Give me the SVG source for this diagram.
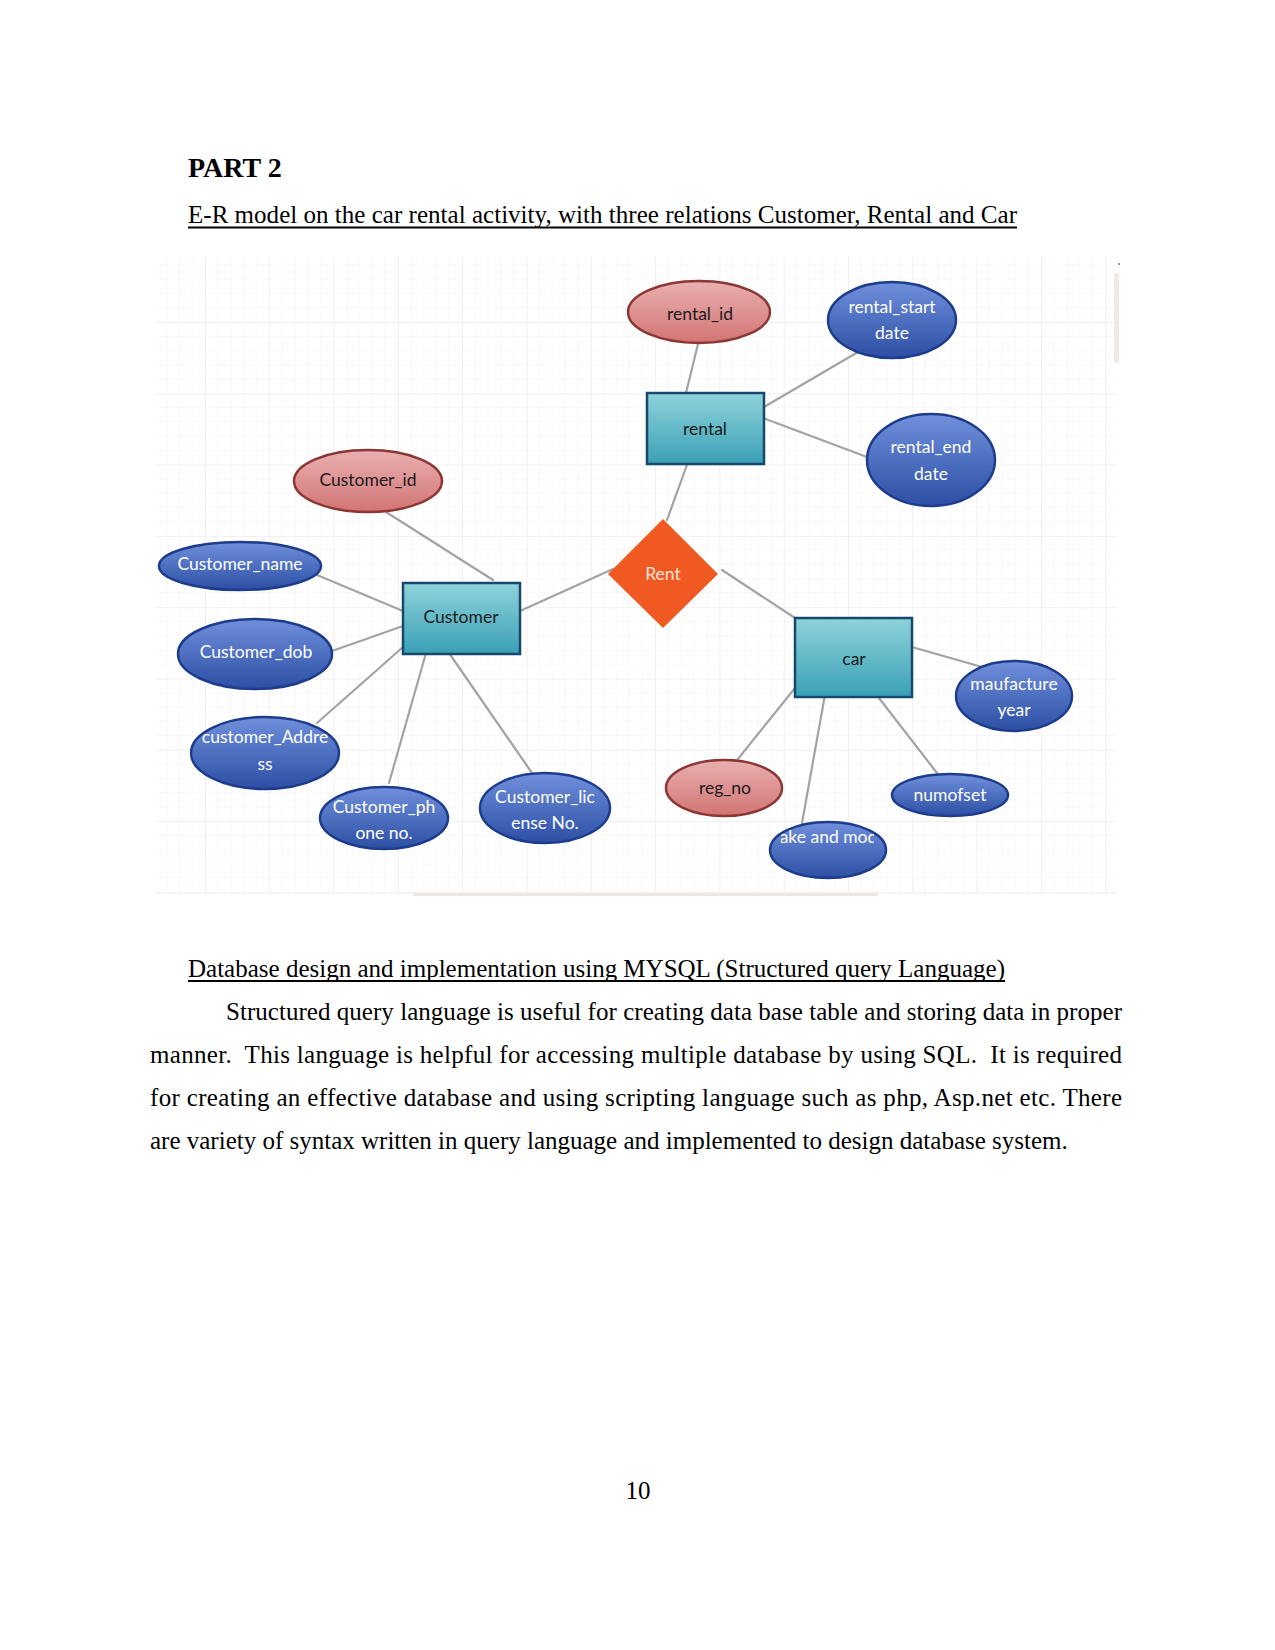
<svg xmlns="http://www.w3.org/2000/svg" width="1275" height="1650" viewBox="0 0 1275 1650">
<style>
.doc{font-family:"Liberation Serif","Times New Roman",serif;fill:#000}
.lbl{font-family:Lato,"Open Sans",sans-serif;font-size:17.5px;text-anchor:middle}
.w{fill:#ffffff}
.d{fill:#1a1a1a}
.blue{fill:url(#gBlue);stroke:#1e3c8c;stroke-width:2.5}
.red{fill:url(#gRed);stroke:#8c3636;stroke-width:2.5}
.ent{fill:url(#gEnt);stroke:#17486e;stroke-width:2.5}
.conn line{stroke:#a3a3a3;stroke-width:2.2;stroke-linecap:round}
</style>
<defs>
<linearGradient id="gBlue" x1="0" y1="0" x2="0" y2="1">
<stop offset="0" stop-color="#7090dc"/><stop offset="1" stop-color="#2c4fa4"/>
</linearGradient>
<linearGradient id="gRed" x1="0" y1="0" x2="0" y2="1">
<stop offset="0" stop-color="#eab0b0"/><stop offset="1" stop-color="#d27474"/>
</linearGradient>
<linearGradient id="gEnt" x1="0" y1="0" x2="0" y2="1">
<stop offset="0" stop-color="#8fd3da"/><stop offset="1" stop-color="#3aa0b6"/>
</linearGradient>
<pattern id="grid" patternUnits="userSpaceOnUse" x="205" y="322" width="64.3" height="71.3">
<g stroke="#f8f8f8" stroke-width="1">
<line x1="12.86" y1="0" x2="12.86" y2="71.3"/><line x1="25.72" y1="0" x2="25.72" y2="71.3"/>
<line x1="38.58" y1="0" x2="38.58" y2="71.3"/><line x1="51.44" y1="0" x2="51.44" y2="71.3"/>
<line x1="0" y1="14.26" x2="64.3" y2="14.26"/><line x1="0" y1="28.52" x2="64.3" y2="28.52"/>
<line x1="0" y1="42.78" x2="64.3" y2="42.78"/><line x1="0" y1="57.04" x2="64.3" y2="57.04"/>
</g>
<g stroke="#efefef" stroke-width="1">
<line x1="0.5" y1="0" x2="0.5" y2="71.3"/><line x1="0" y1="0.5" x2="64.3" y2="0.5"/>
</g>
</pattern>
<clipPath id="clipMake"><rect x="781" y="820" width="93" height="40"/></clipPath>
</defs>

<rect x="0" y="0" width="1275" height="1650" fill="#ffffff"/>

<g id="heading">
<text class="doc" x="188" y="177" font-size="28" font-weight="bold">PART 2</text>
<text class="doc" x="188" y="223" font-size="25" textLength="829" lengthAdjust="spacing">E-R model on the car rental activity, with three relations Customer, Rental and Car</text>
<line x1="188" y1="227.5" x2="1017" y2="227.5" stroke="#000" stroke-width="1.8"/>
</g>

<g id="canvas">
<rect x="156" y="257" width="960" height="636" fill="url(#grid)"/>
<line x1="156" y1="893" x2="1116" y2="893" stroke="#f0f0f0" stroke-width="1.5"/>
<rect x="413" y="893" width="465" height="3" fill="#ede9e2"/>
<rect x="1114" y="273" width="5" height="90" fill="#efebe4"/>
<rect x="1118" y="263" width="2" height="2" fill="#999"/>
</g>

<g id="connectors" class="conn">
<line x1="386" y1="512" x2="493" y2="580"/>
<line x1="317" y1="575" x2="403" y2="611"/>
<line x1="403" y1="626" x2="332" y2="651"/>
<line x1="403" y1="647" x2="317" y2="723"/>
<line x1="426" y1="653" x2="389" y2="783"/>
<line x1="449" y1="653" x2="532" y2="773"/>
<line x1="520" y1="611" x2="613" y2="569"/>
<line x1="699" y1="340" x2="686" y2="393"/>
<line x1="764" y1="407" x2="858" y2="352"/>
<line x1="763" y1="418" x2="867" y2="457"/>
<line x1="688" y1="462" x2="667" y2="520"/>
<line x1="722" y1="570" x2="795" y2="618"/>
<line x1="912" y1="647" x2="982" y2="667"/>
<line x1="795" y1="688" x2="738" y2="759"/>
<line x1="826" y1="689" x2="802" y2="823"/>
<line x1="872" y1="689" x2="937" y2="773"/>
</g>

<g id="node-rental_id">
<ellipse class="red" cx="699" cy="312" rx="71" ry="31"/>
<text class="lbl d" x="700" y="320">rental_id</text>
</g>
<g id="node-rental_start_date">
<ellipse class="blue" cx="892" cy="320" rx="64" ry="38"/>
<text class="lbl w" x="892" y="313">rental_start</text>
<text class="lbl w" x="892" y="339">date</text>
</g>
<g id="node-rental">
<rect class="ent" x="647" y="393" width="117" height="71"/>
<text class="lbl d" x="705" y="435">rental</text>
</g>
<g id="node-rental_end_date">
<ellipse class="blue" cx="931" cy="460" rx="64" ry="46"/>
<text class="lbl w" x="931" y="453">rental_end</text>
<text class="lbl w" x="931" y="480">date</text>
</g>
<g id="node-customer_id">
<ellipse class="red" cx="368" cy="481" rx="74" ry="31"/>
<text class="lbl d" x="368" y="486">Customer_id</text>
</g>
<g id="node-customer_name">
<ellipse class="blue" cx="240" cy="566" rx="81" ry="24"/>
<text class="lbl w" x="240" y="570">Customer_name</text>
</g>
<g id="node-customer">
<rect class="ent" x="403" y="583" width="117" height="71"/>
<text class="lbl d" x="461" y="623">Customer</text>
</g>
<g id="node-rent">
<polygon points="663,519 718,574 663,628 608,574" fill="#f05a22"/>
<text class="lbl" x="663" y="580" fill="#fbe3d8">Rent</text>
</g>
<g id="node-customer_dob">
<ellipse class="blue" cx="255" cy="654" rx="77" ry="35"/>
<text class="lbl w" x="256" y="658">Customer_dob</text>
</g>
<g id="node-customer_address">
<ellipse class="blue" cx="265" cy="753" rx="74" ry="36"/>
<text class="lbl w" x="265" y="743">customer_Addre</text>
<text class="lbl w" x="265" y="770">ss</text>
</g>
<g id="node-customer_phone">
<ellipse class="blue" cx="384" cy="818" rx="64" ry="31"/>
<text class="lbl w" x="384" y="813">Customer_ph</text>
<text class="lbl w" x="384" y="839">one no.</text>
</g>
<g id="node-customer_license">
<ellipse class="blue" cx="545" cy="808" rx="65" ry="35"/>
<text class="lbl w" x="545" y="803">Customer_lic</text>
<text class="lbl w" x="545" y="829">ense No.</text>
</g>
<g id="node-car">
<rect class="ent" x="795" y="618" width="117" height="79"/>
<text class="lbl d" x="854" y="665">car</text>
</g>
<g id="node-maufacture_year">
<ellipse class="blue" cx="1014" cy="696" rx="58" ry="35"/>
<text class="lbl w" x="1014" y="690">maufacture</text>
<text class="lbl w" x="1014" y="716">year</text>
</g>
<g id="node-reg_no">
<ellipse class="red" cx="724" cy="788" rx="58" ry="28"/>
<text class="lbl d" x="725" y="794">reg_no</text>
</g>
<g id="node-numofset">
<ellipse class="blue" cx="950" cy="795" rx="58" ry="21"/>
<text class="lbl w" x="950" y="801">numofset</text>
</g>
<g id="node-make_and_model">
<ellipse class="blue" cx="828" cy="850" rx="58" ry="28"/>
<text class="lbl w" x="828" y="843" clip-path="url(#clipMake)">make and model</text>
</g>

<g id="body">
<text class="doc" x="188" y="977" font-size="25" textLength="817" lengthAdjust="spacing">Database design and implementation using MYSQL (Structured query Language)</text>
<line x1="188" y1="981" x2="1005" y2="981" stroke="#000" stroke-width="1.8"/>
<text class="doc" x="226" y="1020" font-size="25" textLength="896" lengthAdjust="spacing">Structured query language is useful for creating data base table and storing data in proper</text>
<text class="doc" x="150" y="1063" font-size="25" textLength="972" lengthAdjust="spacing" xml:space="preserve">manner.  This language is helpful for accessing multiple database by using SQL.  It is required</text>
<text class="doc" x="150" y="1106" font-size="25" textLength="972" lengthAdjust="spacing">for creating an effective database and using scripting language such as php, Asp.net etc. There</text>
<text class="doc" x="150" y="1149" font-size="25">are variety of syntax written in query language and implemented to design database system.</text>
<text class="doc" x="638" y="1499" font-size="25" text-anchor="middle">10</text>
</g>
</svg>
